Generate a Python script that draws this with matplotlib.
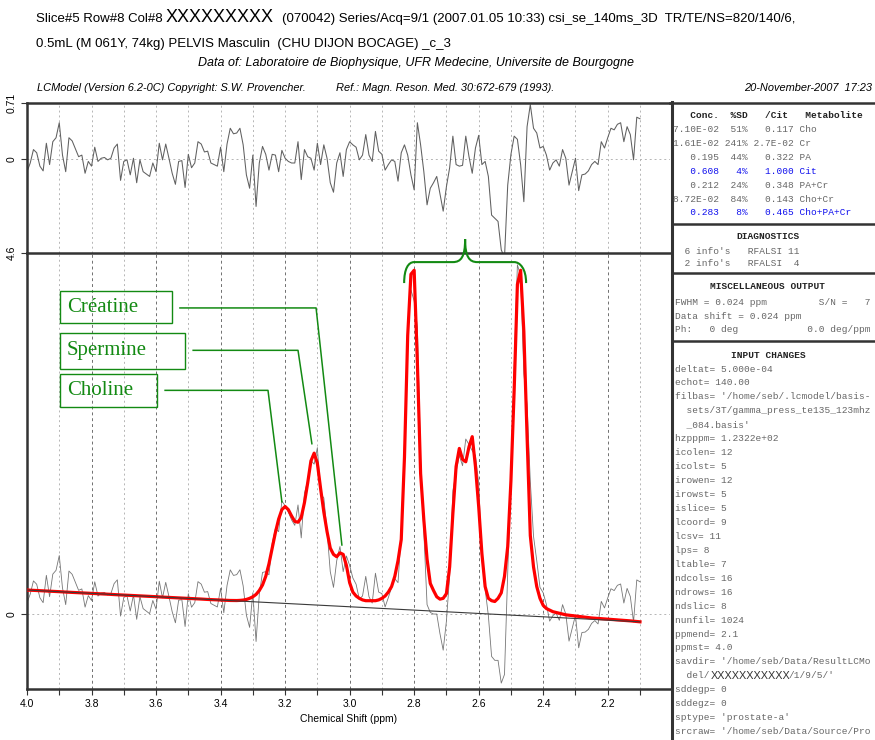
import numpy as np
import matplotlib
matplotlib.use('Agg')
import matplotlib.pyplot as plt
from matplotlib.lines import Line2D
from matplotlib.patches import Rectangle, PathPatch
from matplotlib.path import Path

plt.rcParams['font.family'] = 'Liberation Sans'

# ---- spectrum values (0.01 ppm steps, 4.00 -> 2.10) ----
ppm = np.arange(400, 209, -1) / 100.0

fit = [0.306, 0.304, 0.302, 0.300, 0.297, 0.295, 0.293, 0.291, 0.289, 0.287,
       0.285, 0.282, 0.280, 0.278, 0.276, 0.274, 0.272, 0.270, 0.268, 0.265,
       0.263, 0.261, 0.259, 0.257, 0.255, 0.253, 0.250, 0.248, 0.246, 0.244,
       0.242, 0.240, 0.238, 0.235, 0.233, 0.231, 0.229, 0.227, 0.225, 0.223,
       0.221, 0.218, 0.216, 0.214, 0.212, 0.210, 0.208, 0.206, 0.203, 0.201,
       0.199, 0.197, 0.195, 0.193, 0.191, 0.188, 0.186, 0.184, 0.182, 0.180,
       0.178, 0.176, 0.174, 0.173, 0.172, 0.172, 0.174, 0.178, 0.186, 0.200,
       0.22, 0.25, 0.30, 0.37, 0.48, 0.64, 0.84, 1.04, 1.21, 1.33,
       1.37, 1.33, 1.25, 1.18, 1.17, 1.23, 1.42, 1.67, 1.95, 2.05,
       1.92, 1.60, 1.30, 1.05, 0.84, 0.76, 0.73, 0.78, 0.76, 0.62,
       0.40, 0.28, 0.23, 0.20, 0.18, 0.17, 0.17, 0.17, 0.17, 0.18,
       0.20, 0.23, 0.28, 0.35, 0.48, 0.68, 0.95, 2.00, 3.55, 4.33,
       4.38, 3.20, 1.79, 1.20, 0.70, 0.39, 0.30, 0.22, 0.19, 0.20,
       0.26, 0.60, 1.28, 1.88, 2.11, 1.97, 1.94, 2.13, 2.26, 1.88,
       1.37, 0.77, 0.35, 0.20, 0.17, 0.16, 0.20, 0.27, 0.48, 0.86,
       1.70, 2.85, 4.20, 4.38, 3.60, 2.26, 1.00, 0.60, 0.35, 0.20,
       0.11, 0.07, 0.05, 0.03, 0.02, 0.01, 0.00, -0.010, -0.015, -0.020,
       -0.025, -0.030, -0.035, -0.040, -0.045, -0.050, -0.053, -0.056, -0.059, -0.062,
       -0.065, -0.068, -0.071, -0.074, -0.077, -0.080, -0.083, -0.087, -0.091, -0.095,
       -0.099]

resid = [-0.16, -0.05, 0.12, 0.08, -0.09, -0.15, 0.20, -0.07, 0.22, 0.27, 0.46,
         0.05, -0.16, 0.27, 0.23, 0.13, 0.03, 0.05, -0.18, -0.03, -0.09,
         0.15, -0.03, 0.01, 0.02, -0.01, 0.01, 0.14, 0.19, -0.27, -0.03,
         -0.01, -0.20, 0.01, -0.30, -0.01, -0.16, -0.19, -0.22, -0.05, -0.16,
         0.20, -0.01, 0.19, 0.01, -0.18, -0.32, -0.03, -0.02, -0.36, 0.06,
         -0.11, -0.05, 0.22, 0.19, 0.09, 0.10, -0.05, -0.07, -0.09, 0.15,
         -0.16, 0.19, 0.39, 0.32, 0.33, 0.39, 0.18, -0.20, -0.37, 0.05,
         -0.60, -0.05, 0.16, 0.06, -0.14, 0.06, 0.05, -0.16, 0.11, 0.01,
         -0.03, -0.05, -0.05, 0.22, -0.26, 0.12, 0.03, 0.01, -0.14, 0.20,
         -0.07, 0.18, 0.01, -0.30, -0.42, -0.05, 0.08, -0.22, 0.12, 0.22,
         0.18, 0.15, -0.01, 0.05, 0.31, 0.05, -0.03, 0.35, 0.10, 0.06,
         -0.14, -0.07, -0.01, -0.03, -0.28, 0.08, 0.18, 0.05, -0.20, -0.39,
         0.46, 0.18, -0.16, -0.58, -0.37, -0.30, -0.22, -0.44, -0.66, -0.35,
         -0.11, 0.29, -0.07, -0.09, -0.08, 0.29, 0.03, -0.18, 0.14, 0.30,
         -0.07, -0.03, -0.22, -0.71, -0.75, -0.79, -1.15, -1.25, -0.33, 0.06,
         0.29, 0.25, -0.07, -0.54, 0.41, 0.69, 0.39, 0.33, 0.14, 0.16,
         0.05, -0.14, -0.05, -0.01, -0.09, 0.12, 0.01, -0.33, -0.16, 0.01,
         -0.40, -0.20, -0.19, -0.15, -0.07, -0.03, -0.07, 0.22, 0.14, 0.27,
         0.39, 0.37, 0.44, 0.46, 0.22, 0.41, 0.31, -0.01, 0.53, 0.51]

# data = fit + residual (that is how LCModel defines the residual)
data = np.array(fit) + np.array(resid)

base_ppm = [4.0, 2.1]
base_val = [0.306, -0.099]

major_ticks = [4.0, 3.8, 3.6, 3.4, 3.2, 3.0, 2.8, 2.6, 2.4, 2.2]
minor_ticks = [3.9, 3.7, 3.5, 3.3, 3.1, 2.9, 2.7, 2.5, 2.3, 2.1]

# annotation leaders (ppm, intensity)
cho_x, cho_y = [3.572, 3.253, 3.210], [2.85, 2.85, 1.43]
spm_x, spm_y = [3.485, 3.160, 3.117], [3.36, 3.36, 2.17]
cre_x, cre_y = [3.526, 3.104, 3.024], [3.90, 3.90, 0.88]

table_rows = [
    ("7.10E-02  51%   0.117 Cho", '#666666'),
    ("1.61E-02 241% 2.7E-02 Cr", '#666666'),
    ("   0.195  44%   0.322 PA", '#666666'),
    ("   0.608   4%   1.000 Cit", '#1010ee'),
    ("   0.212  24%   0.348 PA+Cr", '#666666'),
    ("8.72E-02  84%   0.143 Cho+Cr", '#666666'),
    ("   0.283   8%   0.465 Cho+PA+Cr", '#1010ee'),
]
input_lines = [
    "deltat= 5.000e-04", "echot= 140.00",
    "filbas= '/home/seb/.lcmodel/basis-",
    "  sets/3T/gamma_press_te135_123mhz", "  _084.basis'",
    "hzpppm= 1.2322e+02", "icolen= 12", "icolst= 5", "irowen= 12",
    "irowst= 5", "islice= 5", "lcoord= 9", "lcsv= 11", "lps= 8",
    "ltable= 7", "ndcols= 16", "ndrows= 16", "ndslic= 8", "nunfil= 1024",
    "ppmend= 2.1", "ppmst= 4.0", "savdir= '/home/seb/Data/ResultLCMo",
    None, "sddegp= 0", "sddegz= 0", "sptype= 'prostate-a'",
    "srcraw= '/home/seb/Data/Source/Pro",
]

W, H = 875, 740
fig = plt.figure(figsize=(W / 100, H / 100), dpi=100)


def px(x, y):
    return x / W, 1 - y / H


def ftext(x, y, s, **kw):
    kw.setdefault('va', 'center')
    fig.text(*px(x, y), s, **kw)


def fline(xs, ys, lw=1.8, color='#333333'):
    fig.add_artist(Line2D([x / W for x in xs], [1 - y / H for y in ys],
                          lw=lw, color=color))


ax_res = fig.add_axes([27 / W, 1 - 253 / H, 643 / W, 150 / H])
ax = fig.add_axes([27 / W, 1 - 689 / H, 643 / W, 436 / H])

for a in (ax, ax_res):
    a.set_xlim(4.0, 2.007)
    a.spines['right'].set_visible(False)
    for s in ('left', 'top', 'bottom'):
        a.spines[s].set_linewidth(1.8)
        a.spines[s].set_color('#333333')
    for t in minor_ticks:
        a.axvline(t, color='#b5b5b5', lw=0.7, ls=(0, (2, 3)), zorder=0)
    a.axhline(0, color='#b5b5b5', lw=0.7, ls=(0, (2, 3)), zorder=0)
    a.tick_params(labelsize=7.5, length=4, width=0.8, color='#333333')

for t in major_ticks[1:]:
    ax.axvline(t, color='#707070', lw=0.7, ls=(0, (3, 3)), zorder=0)
    ax_res.axvline(t, color='#b5b5b5', lw=0.7, ls=(0, (2, 3)), zorder=0)

ax_res.spines['bottom'].set_visible(False)
ax_res.set_ylim(-1.19, 0.71)
ax_res.set_xticks([])
ax_res.set_yticks([0, 0.71])
ax_res.set_yticklabels(['0', '0.71'], rotation=90, va='center')
ax_res.plot(ppm, resid, color='#606060', lw=0.75)

ax.set_ylim(-0.955, 4.6)
ax.set_yticks([0, 4.6])
ax.set_yticklabels(['0', '4.6'], rotation=90, va='center')
ax.set_xticks(major_ticks)
ax.set_xticklabels([f'{t:.1f}' for t in major_ticks])
ax.set_xticks(minor_ticks, minor=True)
ax.tick_params(which='minor', length=4, width=0.8, color='#333333')
ax.set_xlabel('Chemical Shift (ppm)', fontsize=7.5, labelpad=3)

ax.plot(ppm, data, color='#767676', lw=0.6, zorder=2)
ax.plot(ppm, fit, color='#ff0000', lw=2.3, zorder=3)
ax.plot(base_ppm, base_val, color='#3a3a3a', lw=0.8, zorder=4)

# green annotations
green = '#138a13'
for xs, ys in ((cho_x, cho_y), (spm_x, spm_y), (cre_x, cre_y)):
    ax.plot(xs, ys, color=green, lw=1.1, clip_on=False, zorder=5)

for label, (x0, y0, x1, y1) in (("Créatine", (60, 291, 172, 323)),
                                 ("Spermine", (60, 333, 185, 369)),
                                 ("Choline", (60, 374, 157, 407))):
    fig.add_artist(Rectangle(px(x0, y1), (x1 - x0) / W, (y1 - y0) / H,
                             fill=False, edgecolor=green, lw=1.0))
    ftext(x0 + 7, (y0 + y1) / 2, label, color=green, fontsize=15,
          family='Liberation Serif')

M, C, L = Path.MOVETO, Path.CURVE4, Path.LINETO
brace = Path([(2.831, 4.217), (2.831, 4.40), (2.818, 4.484), (2.800, 4.484),
              (2.680, 4.484),
              (2.655, 4.484), (2.642, 4.55), (2.642, 4.777),
              (2.642, 4.55), (2.629, 4.484), (2.604, 4.484),
              (2.490, 4.484),
              (2.472, 4.484), (2.453, 4.40), (2.453, 4.217)],
             [M, C, C, C, L, C, C, C, C, C, C, L, C, C, C])
ax.add_patch(PathPatch(brace, fill=False, edgecolor=green, lw=1.5,
                       clip_on=False, zorder=6))

# header
ftext(36, 19, "Slice#5 Row#8 Col#8", fontsize=9.5)
ftext(166, 18, "XXXXXXXXX", fontsize=13)
ftext(282, 19, "(070042) Series/Acq=9/1 (2007.01.05 10:33) csi_se_140ms_3D  "
      "TR/TE/NS=820/140/6,", fontsize=9.5)
ftext(36, 44, "0.5mL (M 061Y, 74kg) PELVIS Masculin  (CHU DIJON BOCAGE) _c_3",
      fontsize=9.5)
ftext(416, 63, "Data of: Laboratoire de Biophysique, UFR Medecine, "
      "Universite de Bourgogne", fontsize=9, style='italic', ha='center')
ftext(37, 88, "LCModel (Version 6.2-0C) Copyright: S.W. Provencher.",
      fontsize=7.9, style='italic')
ftext(336, 88, "Ref.: Magn. Reson. Med. 30:672-679 (1993).",
      fontsize=7.9, style='italic')
ftext(872, 88, "20-November-2007  17:23", fontsize=7.9, style='italic',
      ha='right')

# right-hand panel
fline([670, 875], [103, 103])
fline([672, 672], [102, 740], lw=2.2)
for y in (224, 273, 341):
    fline([672, 875], [y, y])

mono = dict(family='Liberation Mono', fontsize=6.8)
ftext(673, 116, "   Conc.  %SD   /Cit   Metabolite", fontweight='bold',
      color='#222222', **mono)
for i, (row, col) in enumerate(table_rows):
    ftext(673, 129.5 + 13.9 * i, row, color=col, **mono)

ftext(768, 237, "DIAGNOSTICS", ha='center', fontweight='bold', color='#222222', **mono)
ftext(673, 251, "  6 info's   RFALSI 11", color='#666666', **mono)
ftext(673, 264, "  2 info's   RFALSI  4", color='#666666', **mono)

ftext(768, 287, "MISCELLANEOUS OUTPUT", ha='center', fontweight='bold',
      color='#222222', **mono)
ftext(675, 302, "FWHM = 0.024 ppm         S/N =   7", color='#666666', **mono)
ftext(675, 316, "Data shift = 0.024 ppm", color='#666666', **mono)
ftext(675, 330, "Ph:   0 deg            0.0 deg/ppm", color='#666666', **mono)

ftext(768, 355, "INPUT CHANGES", ha='center', fontweight='bold',
      color='#222222', **mono)
for i, line in enumerate(input_lines):
    if line is None:
        # the anonymised part of savdir, drawn in a different font
        y_del = 369 + 13.95 * i
        ftext(675, y_del, "  del/", color='#666666', **mono)
        ftext(711, y_del, "XXXXXXXXXXX", color='#333333', fontsize=7.8)
        ftext(788, y_del, "/1/9/5/'", color='#666666', **mono)
        continue
    ftext(675, 369 + 13.95 * i, line, color='#666666', **mono)

fig.savefig('out.png', dpi=100)
